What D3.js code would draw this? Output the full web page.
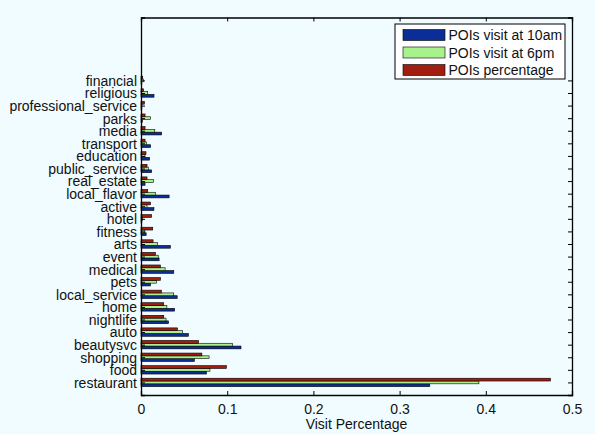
<!DOCTYPE html>
<html><head><meta charset="utf-8">
<script src="https://cdn.jsdelivr.net/npm/d3@7"></script>
<style>
html,body{margin:0;padding:0;background:#f0fcff;}
text{font-family:"Liberation Sans",Arial,Helvetica,sans-serif;}
</style></head>
<body>
<svg id="chart" width="595" height="434"></svg>
<script>
const categories = ["restaurant","food","shopping","beautysvc","auto","nightlife","home","local_service","pets","medical","event","arts","fitness","hotel","active","local_flavor","real_estate","public_service","education","transport","media","parks","professional_service","religious","financial"];
const visit10am = [0.335,0.076,0.062,0.116,0.055,0.032,0.039,0.042,0.011,0.038,0.021,0.034,0.006,0.001,0.015,0.0326,0.0047,0.0124,0.010,0.0112,0.024,0.0015,0.001,0.0151,0.001];
const visit6pm  = [0.392,0.080,0.079,0.106,0.048,0.029,0.030,0.038,0.018,0.028,0.020,0.019,0.0045,0.002,0.007,0.017,0.0143,0.0085,0.0047,0.0066,0.016,0.0112,0.001,0.0078,0.003];
const poiPct    = [0.475,0.099,0.0706,0.0667,0.0423,0.0264,0.0264,0.0237,0.0225,0.0225,0.0168,0.014,0.0136,0.0124,0.011,0.0078,0.007,0.007,0.0058,0.0047,0.0047,0.0047,0.0039,0.003,0.002];
const seriesNames = ["POIs visit at 10am","POIs visit at 6pm","POIs percentage"];
const seriesColors = ["#0b2e96","#a8f28c","#a11d0f"];
const xTicks = [0,0.1,0.2,0.3,0.4,0.5];

const svg = d3.select("#chart");
const L=141, R=572, T=17.5, B=395;
const FS="14px";
const x = d3.scaleLinear().domain([0,0.5]).range([L,R]);
const y = d3.scaleLinear().domain([0,30]).range([B,T]);

svg.append("rect").attr("x",L).attr("y",T).attr("width",R-L).attr("height",B-T).attr("fill","#f0fcff");

const series=[visit10am,visit6pm,poiPct];
const unit = y(0)-y(1);
const groupW = 0.667;
const bw = groupW/3;
series.forEach((vals,s)=>{
  const off = -groupW/2 + bw*(s+0.5);
  svg.append("g").selectAll("rect").data(vals).join("rect")
    .attr("x",x(0))
    .attr("y",(d,i)=>y(i+1+off+bw/2))
    .attr("width",d=>x(d)-x(0))
    .attr("height",bw*unit)
    .attr("fill",seriesColors[s])
    .attr("stroke","#000").attr("stroke-width",0.6);
});

const tickLen=4;
const xb = svg.append("g").attr("transform",`translate(0,${B})`)
  .call(d3.axisBottom(x).tickValues(xTicks).tickSize(-tickLen).tickPadding(9).tickFormat(d=>d===0?"0":String(d)));
const xt = svg.append("g").attr("transform",`translate(0,${T})`)
  .call(d3.axisTop(x).tickValues(xTicks).tickSize(-tickLen).tickFormat(""));
const yTickVals = categories.map((c,i)=>i+1);
const yl = svg.append("g").attr("transform",`translate(${L},0)`)
  .call(d3.axisLeft(y).tickValues(yTickVals).tickSize(-tickLen).tickPadding(4).tickFormat(d=>categories[d-1]));
const yr = svg.append("g").attr("transform",`translate(${R},0)`)
  .call(d3.axisRight(y).tickValues(yTickVals).tickSize(-tickLen).tickFormat(""));
[xb,xt,yl,yr].forEach(g=>{
  g.select(".domain").attr("stroke","#000").attr("stroke-width",1.3);
  g.selectAll(".tick line").attr("stroke","#000");
  g.selectAll("text").attr("fill","#111").style("font-size",FS).style("font-family","'Liberation Sans',Arial,sans-serif");
});
yl.selectAll("text").attr("dy","0.35em");

svg.append("text").attr("x",(L+R)/2).attr("y",429).attr("text-anchor","middle")
  .style("font-size",FS).attr("fill","#111").text("Visit Percentage");

const lg = svg.append("g");
lg.append("rect").attr("x",395).attr("y",24).attr("width",170).attr("height",55)
  .attr("fill","#ffffff").attr("stroke","#000").attr("stroke-width",1);
[0,1,2].forEach((s,k)=>{
  const cy = 35 + k*17.5;
  lg.append("rect").attr("x",403).attr("y",cy-5.5).attr("width",42).attr("height",11)
    .attr("fill",seriesColors[s]).attr("stroke","#000").attr("stroke-width",0.6);
  lg.append("text").attr("x",448.5).attr("y",cy).attr("dy","0.36em")
    .style("font-size",FS).attr("fill","#111").text(seriesNames[s]);
});
</script>
</body></html>
